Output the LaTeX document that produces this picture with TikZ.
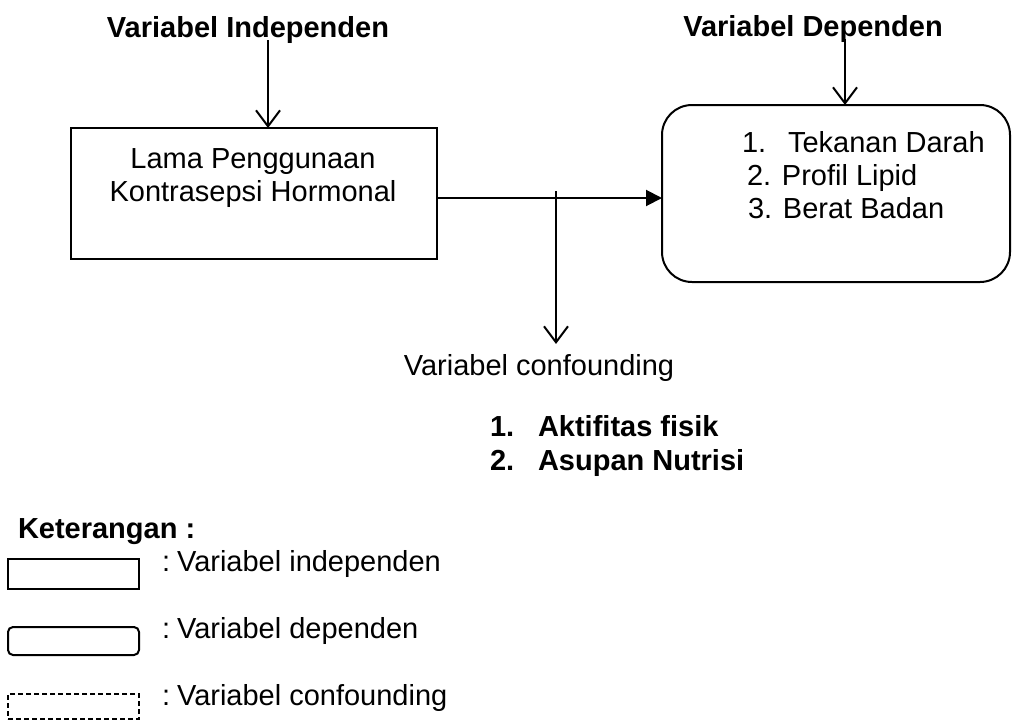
\documentclass[tikz,border=0pt]{standalone}
\usepackage{fontspec}
\setmainfont{Liberation Sans}
\usetikzlibrary{arrows.meta}
\begin{document}
\begin{tikzpicture}[x=1pt,y=-1pt,
  every node/.style={inner sep=0pt,outer sep=0pt,font=\fontsize{29pt}{33pt}\selectfont},
  ttl/.style={font=\fontsize{29pt}{33pt}\selectfont\bfseries},
  txt/.style={anchor=base west},
  ctxt/.style={anchor=base},
  boxrect/.style={draw,line width=2pt},
  vtip/.style={line width=2pt,-{Straight Barb[length=16pt,width=24pt,line width=2pt]}},
  ftip/.style={line width=2pt,-{Triangle[length=16pt,width=16pt]}}]
\useasboundingbox (0,0) rectangle (1012,720);
% titles
\node[ttl,ctxt] (tI) at (248,37) {Variabel Independen};
\node[ttl,ctxt] (tD) at (813,36) {Variabel Dependen};
% boxes
\node[boxrect,minimum width=366pt,minimum height=131pt] (ind) at (254,193.5) {};
\node[ctxt] (l1) at (253,168) {Lama Penggunaan};
\node[ctxt] (l2) at (253,201) {Kontrasepsi Hormonal};
\node[boxrect,rounded corners=30pt,minimum width=348pt,minimum height=177pt] (dep) at (836,193.5) {};
\node[txt] (d1n) at (742,152) {1.};
\node[txt] (d1) at (788,152) {Tekanan Darah};
\node[txt] (d2) at (747,185) {2. Profil Lipid};
\node[txt] (d3) at (748,218) {3. Berat Badan};
% arrows
\draw[vtip] ([xshift=20pt,yshift=-3pt]tI.base) -- ([xshift=14pt]ind.north);
\draw[vtip] ([xshift=32pt,yshift=-3pt]tD.base) -- ([xshift=9pt]dep.north);
\draw[ftip] ([yshift=-4.5pt]ind.east) -- ([yshift=-4.5pt]dep.west);
% confounding
\coordinate (cf) at (556,191);
\node[ctxt] (conf) at (539,375) {Variabel confounding};
\draw[vtip] (cf) -- ([yshift=10pt]conf.north -| cf);
\node[ttl,txt] (c1n) at (490,436) {1.};
\node[ttl,txt] (c1) at (538,436) {Aktifitas fisik};
\node[ttl,txt] (c2n) at (490,470) {2.};
\node[ttl,txt] (c2) at (538,470) {Asupan Nutrisi};
% legend
\node[ttl,txt] (ket) at (18,538) {Keterangan :};
\node[boxrect,minimum width=131pt,minimum height=30pt] (lg1) at (73.5,574) {};
\node[boxrect,rounded corners=5pt,minimum width=131pt,minimum height=28pt] (lg2) at (73.5,641) {};
\node[draw,line width=1.8pt,dash pattern=on 5pt off 3pt,minimum width=131pt,minimum height=25pt] (lg3) at (73.5,706.5) {};
\node[txt] (lt1) at (162,571) {:\hspace{7pt}Variabel independen};
\node[txt] (lt2) at (162,638) {:\hspace{7pt}Variabel dependen};
\node[txt] (lt3) at (162,705) {:\hspace{7pt}Variabel confounding};
\end{tikzpicture}
\end{document}
